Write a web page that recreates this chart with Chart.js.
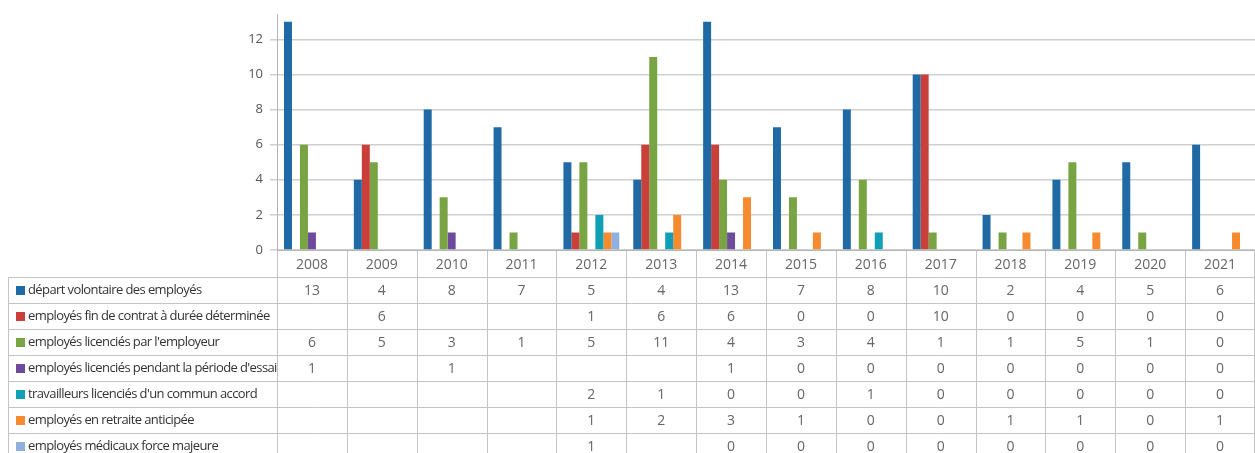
<!DOCTYPE html>
<html lang="fr">
<head>
    <meta charset="UTF-8">
    <title>Départs des employés 2008-2021</title>
    <script src="https://cdn.jsdelivr.net/npm/chart.js@4.4.1/dist/chart.umd.min.js"></script>
    <style>
        body {
            margin: 0;
            padding: 0;
            background: #fff;
        }
        .chart-box {
            position: relative;
            width: 1255px;
            height: 453px;
        }
    </style>
</head>
<body>
    <div class="chart-box">
        <canvas id="departChart"></canvas>
    </div>

    <script>
        // années (catégories)
        const years = ['2008', '2009', '2010', '2011', '2012', '2013', '2014', '2015', '2016', '2017', '2018', '2019', '2020', '2021'];

        // séries (null = case vide dans le tableau)
        const departVolontaire = [13, 4, 8, 7, 5, 4, 13, 7, 8, 10, 2, 4, 5, 6];
        const finContratCDD = [null, 6, null, null, 1, 6, 6, 0, 0, 10, 0, 0, 0, 0];
        const licenciesEmployeur = [6, 5, 3, 1, 5, 11, 4, 3, 4, 1, 1, 5, 1, 0];
        const licenciesEssai = [1, null, 1, null, null, null, 1, 0, 0, 0, 0, 0, 0, 0];
        const communAccord = [null, null, null, null, 2, 1, 0, 0, 1, 0, 0, 0, 0, 0];
        const retraiteAnticipee = [null, null, null, null, 1, 2, 3, 1, 0, 0, 1, 1, 0, 1];
        const forceMajeure = [null, null, null, null, 1, null, 0, 0, 0, 0, 0, 0, 0, 0];

        const seriesLabels = [
            'départ volontaire des employés',
            'employés fin de contrat à durée déterminée',
            "employés licenciés par l'employeur",
            "employés licenciés pendant la période d'essai",
            "travailleurs licenciés d'un commun accord",
            'employés en retraite anticipée',
            'employés médicaux force majeure'
        ];
        const seriesData = [departVolontaire, finContratCDD, licenciesEmployeur, licenciesEssai, communAccord, retraiteAnticipee, forceMajeure];
        const seriesColors = ['#1f6aa5', '#c9403a', '#79a443', '#6d4a9a', '#109fb4', '#f58a2f', '#8fb0dc'];

        // graduations de l'axe Y
        const yTicks = [0, 2, 4, 6, 8, 10, 12];

        const crisp = v => Math.round(v) + 0.5;

        // tableau de données sous le graphique
        const dataTablePlugin = {
            id: 'dataTable',
            afterDraw(chart) {
                const ctx = chart.ctx;
                const x = chart.scales.x;
                const top = chart.chartArea.bottom + 1;
                const headH = 26;
                const rowH = 26;
                const left = 8;
                const bottom = top + headH + rowH * seriesData.length;
                const edge = i => x.getPixelForValue(i - 0.5);

                ctx.save();
                ctx.strokeStyle = '#c4c4c4';
                ctx.lineWidth = 1;
                ctx.beginPath();
                // lignes verticales des colonnes
                for (let i = 0; i <= years.length; i++) {
                    const px = crisp(Math.min(edge(i), chart.width - 1));
                    ctx.moveTo(px, top);
                    ctx.lineTo(px, bottom);
                }
                ctx.moveTo(crisp(left), top + headH);
                ctx.lineTo(crisp(left), bottom);
                // lignes horizontales
                for (let r = 0; r <= seriesData.length; r++) {
                    const py = crisp(top + headH + r * rowH);
                    ctx.moveTo(left, py);
                    ctx.lineTo(chart.width, py);
                }
                ctx.stroke();

                ctx.textBaseline = 'middle';
                ctx.textAlign = 'center';
                ctx.fillStyle = '#666';
                ctx.font = '14px "Open Sans"';
                years.forEach((yr, i) => {
                    ctx.fillText(yr, x.getPixelForValue(i), top + headH / 2 + 1);
                });

                seriesData.forEach((vals, r) => {
                    const cy = top + headH + r * rowH + rowH / 2;
                    ctx.fillStyle = seriesColors[r];
                    ctx.fillRect(16, Math.round(cy - 4), 9, 9);
                    ctx.textAlign = 'left';
                    ctx.fillStyle = '#333';
                    ctx.font = '13px "Open Sans"';
                    ctx.letterSpacing = '-0.6px';
                    ctx.fillText(seriesLabels[r], 28, cy);
                    ctx.letterSpacing = '0px';
                    ctx.textAlign = 'center';
                    ctx.fillStyle = '#666';
                    ctx.font = '14px "Open Sans"';
                    vals.forEach((v, i) => {
                        if (v !== null) ctx.fillText(String(v), x.getPixelForValue(i), cy + 1);
                    });
                });
                ctx.restore();
            }
        };

        const ctxChart = document.getElementById('departChart').getContext('2d');
        new Chart(ctxChart, {
            type: 'bar',
            data: {
                labels: years,
                datasets: seriesData.map((d, i) => ({
                    label: seriesLabels[i],
                    data: d,
                    backgroundColor: seriesColors[i],
                    borderWidth: 0,
                    categoryPercentage: 0.8,
                    barPercentage: 1.0
                }))
            },
            options: {
                responsive: true,
                maintainAspectRatio: false,
                animation: false,
                layout: {
                    padding: { top: 14, left: 0, right: 0, bottom: 0 }
                },
                plugins: {
                    legend: { display: false },
                    tooltip: { enabled: false }
                },
                scales: {
                    x: {
                        grid: { display: false },
                        border: { display: true, color: '#b5b5b5', width: 1 },
                        ticks: { display: false },
                        afterFit: scale => { scale.height = 203; }
                    },
                    y: {
                        min: 0,
                        max: 13.4,
                        afterBuildTicks: scale => {
                            scale.ticks = yTicks.map(v => ({ value: v }));
                        },
                        afterFit: scale => { scale.width = 277; },
                        grid: {
                            color: '#cfcfcf',
                            lineWidth: 1.5,
                            tickLength: 7,
                            drawTicks: true
                        },
                        border: { display: true, color: '#b5b5b5', width: 1 },
                        ticks: {
                            color: '#555',
                            font: { family: 'Open Sans', size: 13 },
                            padding: 7
                        }
                    }
                }
            },
            plugins: [dataTablePlugin]
        });
    </script>
</body>
</html>
